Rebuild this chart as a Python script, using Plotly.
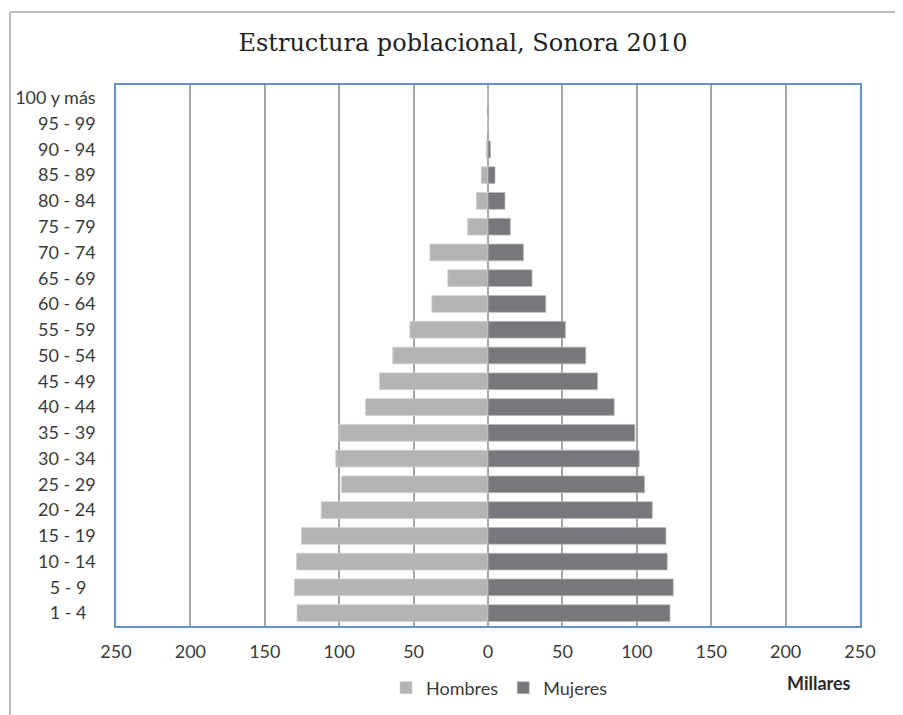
import plotly.graph_objects as go

grupos = ["1 - 4\u00a0\u00a0", "5 - 9\u00a0\u00a0", "10 - 14", "15 - 19", "20 - 24",
          "25 - 29", "30 - 34", "35 - 39", "40 - 44", "45 - 49", "50 - 54", "55 - 59",
          "60 - 64", "65 - 69", "70 - 74", "75 - 79", "80 - 84", "85 - 89", "90 - 94",
          "95 - 99", "100 y más"]
hombres = [128.3, 130.1, 128.7, 125.4, 112.1, 98.5, 102.3, 100.3, 82.3, 72.9, 64.0,
           52.5, 37.7, 27.0, 39.0, 13.7, 7.8, 4.5, 1.2, 0.3, 0.1]
mujeres = [122.3, 124.5, 120.5, 119.6, 110.4, 105.2, 101.6, 98.7, 84.8, 73.6, 65.7,
           52.0, 38.8, 29.6, 23.8, 15.0, 11.4, 4.7, 1.7, 0.3, 0.1]
tick_vals = [-250, -200, -150, -100, -50, 0, 50, 100, 150, 200, 250]
tick_text = ["250", "200", "150", "100", "50", "0", "50", "100", "150", "200", "250"]

W, H = 903, 715
OFF = 8  # page body margin offset
PW, PH = 744, 541
ML = 116 - OFF
MT = 85 - OFF
MR = W - ML - PW
MB = H - MT - PH


def px_x(px):
    return (px - OFF - ML) / PW


def px_y(py):
    return (MT + PH - (py - OFF)) / PH


font_fam = "Lato, 'Open Sans', sans-serif"
txt_col = "#3a3a3a"

fig = go.Figure()
fig.add_trace(go.Bar(
    y=grupos, x=[-v for v in hombres], orientation="h", name="Hombres",
    marker=dict(color="#B3B4B6", line=dict(color="#D0D0D0", width=0.75)),
))
fig.add_trace(go.Bar(
    y=grupos, x=mujeres, orientation="h", name="Mujeres",
    marker=dict(color="#77787C", line=dict(color="#B8B8B8", width=0.75)),
))

fig.update_layout(
    width=W, height=H,
    margin=dict(l=ML, r=MR, t=MT, b=MB, autoexpand=False),
    paper_bgcolor="white", plot_bgcolor="white",
    barmode="relative", bargap=0.35,
    font=dict(family=font_fam, size=18, color=txt_col),
    title=dict(text="Estructura poblacional, Sonora 2010",
               font=dict(family="'DejaVu Serif', serif", size=24, color="#222222"),
               xref="container", x=(463 - OFF) / W, xanchor="center",
               yref="container", y=1 - (43 - OFF) / H, yanchor="middle"),
    showlegend=True,
    legend=dict(orientation="h", x=px_x(386), xanchor="left",
                y=px_y(688), yanchor="middle",
                font=dict(family=font_fam, size=18, color=txt_col),
                bgcolor="rgba(0,0,0,0)", itemclick=False),
    xaxis=dict(range=[-250, 250], tickvals=tick_vals, ticktext=tick_text,
               showgrid=True, gridcolor="#A6A6A6", gridwidth=1.5,
               zeroline=False, showline=True, linecolor="#6592CC", linewidth=1.5,
               mirror=True, ticks="", ticklabelstandoff=9, automargin=False,
               tickfont=dict(family=font_fam, size=18, color=txt_col), fixedrange=True),
    yaxis=dict(type="category", showgrid=False, zeroline=False,
               showline=True, linecolor="#6592CC", linewidth=1.5, mirror=True,
               ticks="", ticklabelstandoff=15, automargin=False,
               tickfont=dict(family=font_fam, size=18, color=txt_col), fixedrange=True),
    annotations=[dict(text="<b>Millares</b>", xref="paper", yref="paper",
                      x=px_x(819), y=px_y(683), xanchor="center", yanchor="middle",
                      showarrow=False, font=dict(family=font_fam, size=18, color="#2a2a2a"))],
    shapes=[
        dict(type="line", xref="paper", yref="paper", x0=px_x(10), x1=px_x(10),
             y0=px_y(12), y1=px_y(740), line=dict(color="#A6A6A6", width=1.5)),
        dict(type="line", xref="paper", yref="paper", x0=px_x(10), x1=px_x(930),
             y0=px_y(12), y1=px_y(12), line=dict(color="#A6A6A6", width=1.5)),
    ],
)

fig.write_html("out.html")
